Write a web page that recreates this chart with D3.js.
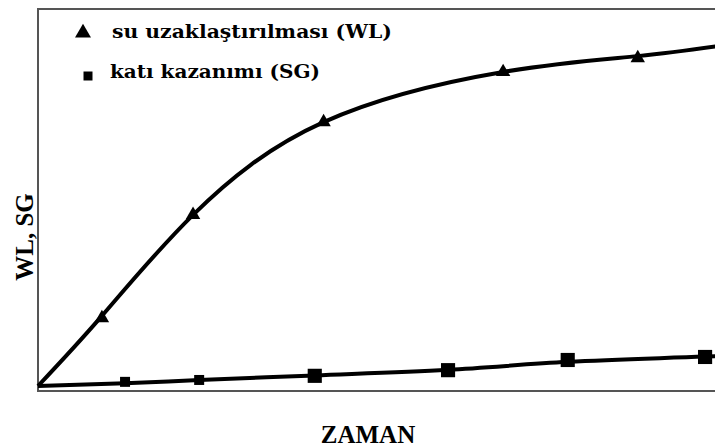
<!DOCTYPE html>
<html>
<head>
<meta charset="utf-8">
<script src="https://cdn.jsdelivr.net/npm/d3@7"></script>
<style>
  body { margin: 0; background: #fff; }
  svg { display: block; }
</style>
</head>
<body>
<div id="chart"></div>
<script>
// marker data (time in arbitrary units, value in % of axis)
const wlTime = [9.4, 22.8, 42.0, 68.4, 88.2];
const wlValue = [18.0, 45.4, 70.0, 83.3, 87.0];
const sgTime = [12.8, 23.7, 40.7, 60.3, 77.9, 98.1];
const sgValue = [1.1, 1.6, 2.7, 4.2, 6.9, 7.7];

// fitted curves drawn through the markers
const wlCurveTime = [0, 9.4, 22.8, 42.0, 68.4, 88.2, 101];
const wlCurveValue = [0, 18.6, 45.4, 70.0, 83.3, 87.5, 90.4];
const sgCurveTime = [0, 12.8, 23.7, 40.7, 60.3, 77.9, 98.1, 101];
const sgCurveValue = [0, 0.7, 1.6, 2.8, 4.3, 6.4, 7.8, 8.0];

const legendLabels = ["su uzaklaştırılması (WL)", "katı kazanımı (SG)"];
const xTitle = "ZAMAN";
const yTitle = "WL, SG";

const w = 715;
const h = 448;

const svg = d3.select("#chart")
              .append("svg")
              .attr("width", w)
              .attr("height", h);

const x = d3.scaleLinear().domain([0, 100]).range([38, 718]);
const y = d3.scaleLinear().domain([0, 100]).range([386, 9]);

// frame (left, top, bottom - right side runs off the picture)
svg.append("path")
   .attr("d", "M" + (w + 5) + ",9H38V391H" + (w + 5))
   .attr("fill", "none")
   .attr("stroke", "#555")
   .attr("stroke-width", 2);

const line = d3.line()
               .x(d => x(d[0]))
               .y(d => y(d[1]))
               .curve(d3.curveNatural);

svg.append("path")
   .datum(d3.zip(wlCurveTime, wlCurveValue))
   .attr("d", line)
   .attr("fill", "none")
   .attr("stroke", "#000")
   .attr("stroke-width", 4);

svg.append("path")
   .datum(d3.zip(sgCurveTime, sgCurveValue))
   .attr("d", line.curve(d3.curveMonotoneX))
   .attr("fill", "none")
   .attr("stroke", "#000")
   .attr("stroke-width", 4);

const tri = d3.symbol().type(d3.symbolTriangle).size(90);

svg.selectAll(".wl")
   .data(d3.zip(wlTime, wlValue))
   .enter()
   .append("path")
   .attr("class", "wl")
   .attr("d", tri)
   .attr("transform", d => "translate(" + x(d[0]) + "," + y(d[1]) + ")")
   .attr("fill", "#000");

svg.selectAll(".sg")
   .data(d3.zip(sgTime, sgValue))
   .enter()
   .append("path")
   .attr("class", "sg")
   .attr("d", (d, i) => d3.symbol().type(d3.symbolSquare).size(i < 2 ? 100 : 200)())
   .attr("transform", d => "translate(" + x(d[0]) + "," + y(d[1]) + ")")
   .attr("fill", "#000");

// legend
const legend = svg.append("g").attr("id", "legend");
legend.append("path")
      .attr("d", d3.symbol().type(d3.symbolTriangle).size(110))
      .attr("transform", "translate(83,33)");
legend.append("path")
      .attr("d", d3.symbol().type(d3.symbolSquare).size(81))
      .attr("transform", "translate(88,76)");
legend.selectAll("text")
      .data(legendLabels)
      .enter()
      .append("text")
      .attr("x", (d, i) => i === 0 ? 112 : 110)
      .attr("y", (d, i) => 38 + i * 40)
      .attr("font-family", "DejaVu Serif")
      .attr("font-weight", "bold")
      .attr("font-size", 19)
      .attr("textLength", (d, i) => i === 0 ? 280 : 210)
      .attr("lengthAdjust", "spacingAndGlyphs")
      .text(d => d);

// axis titles
svg.append("text")
   .attr("x", 368)
   .attr("y", 443)
   .attr("text-anchor", "middle")
   .attr("font-family", "Liberation Serif")
   .attr("font-weight", "bold")
   .attr("font-size", 25)
   .text(xTitle);

svg.append("text")
   .attr("transform", "translate(33,237) rotate(-90)")
   .attr("text-anchor", "middle")
   .attr("font-family", "Liberation Serif")
   .attr("font-weight", "bold")
   .attr("font-size", 25)
   .text(yTitle);
</script>
</body>
</html>
